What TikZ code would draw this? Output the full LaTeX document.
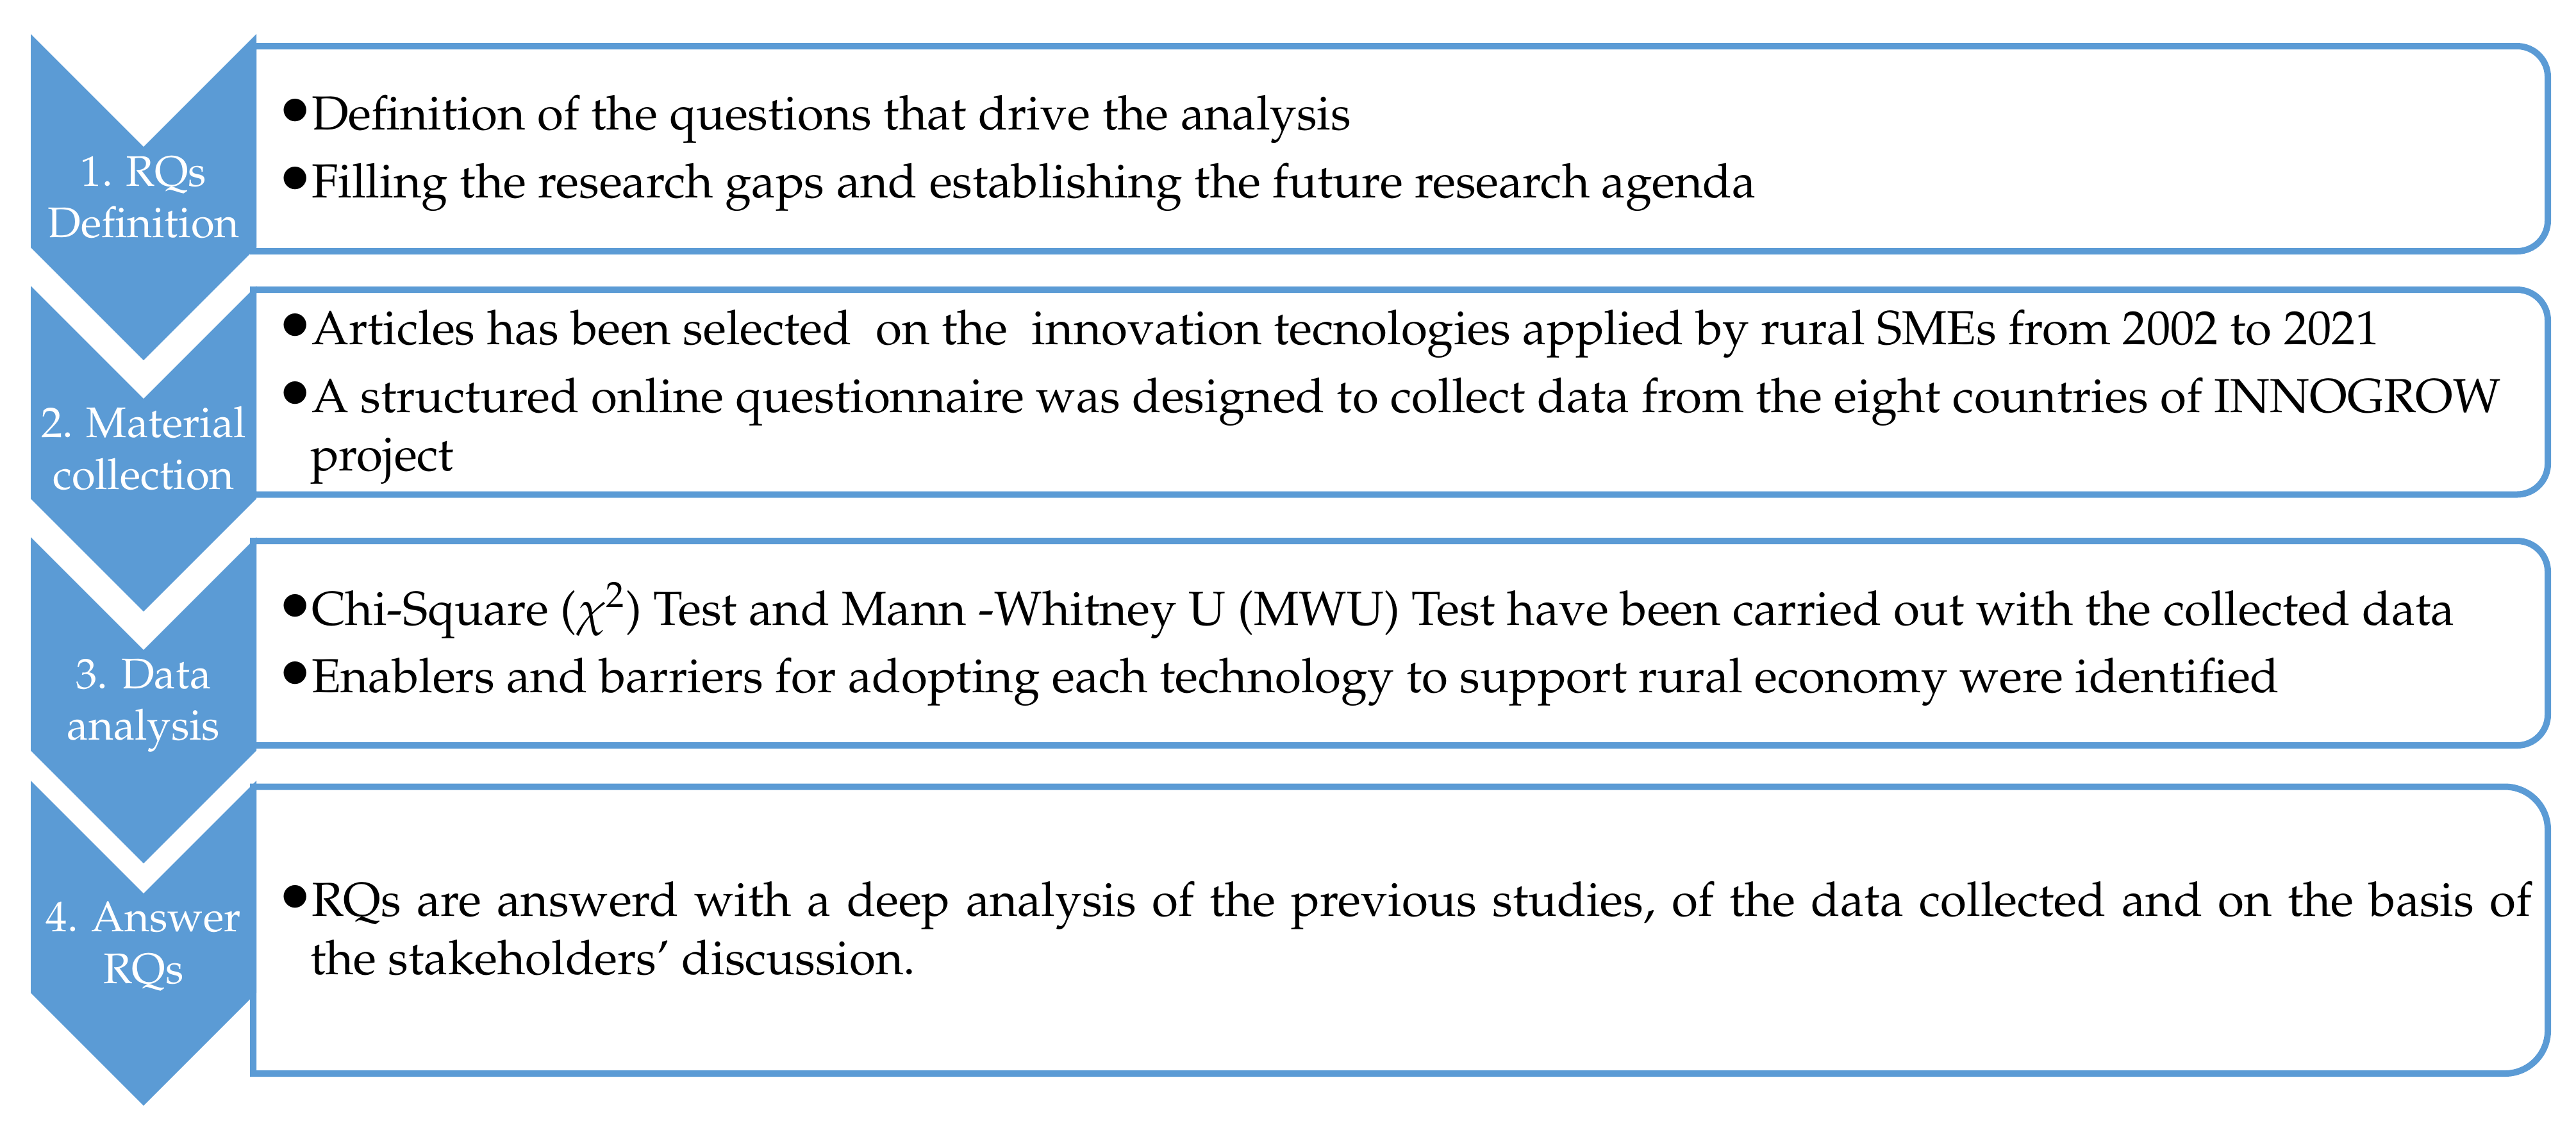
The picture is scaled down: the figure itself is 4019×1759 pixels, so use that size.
\documentclass[tikz,border=0pt]{standalone}
\usepackage[T1]{fontenc}
\usepackage{mathpazo}
\usepackage{graphicx}
\definecolor{accent}{HTML}{5B9BD5}
\newcommand\stagebox[4]{%
  \draw[stepbox] (395,#2) -- ({3975-#4},#2) arc[start angle=-90,end angle=0,radius=#4]
    -- (3975,{#3-#4}) arc[start angle=0,end angle=90,radius=#4] -- (395,#3) -- cycle;
  \coordinate (#1) at (2185,{(#2+#3)/2});}
\newcommand\chevshape[2]{%
  \fill[chev] (48,#1) -- (224,{#1+176}) -- (400,#1) -- (400,{#1+#2})
    -- (224,{#1+#2+176}) -- (48,{#1+#2}) -- cycle;}
\newcommand\blt{\makebox[0.37cm][l]{\makebox[0.23cm][c]{\raisebox{-1.5pt}{\scalebox{1.38}{\textbullet}}}}}
\begin{document}
\begin{tikzpicture}[x=0.01cm,y=-0.01cm,
  stepbox/.style={draw=accent,line width=0.1cm,fill=white},
  chev/.style={fill=accent,draw=none},
  bodytext/.style={anchor=base west,inner sep=0pt,outer sep=0pt,font=\fontsize{21.2}{26}\selectfont},
  labeltext/.style={anchor=base,inner sep=0pt,outer sep=0pt,text=white,font=\fontsize{19}{23}\selectfont}]
\useasboundingbox (0,0) rectangle (4019,1759);
% boxes
\stagebox{box1}{72}{392}{48}
\stagebox{box2}{452}{771.5}{48}
\stagebox{box3}{844}{1163}{48}
\stagebox{box4}{1227.5}{1675}{67}
% chevrons
\chevshape{53}{333}
\chevshape{446}{332}
\chevshape{838}{333}
\chevshape{1218}{331}
% labels
\node[labeltext] (l1a) at (224,290) {1. RQs};
\node[labeltext] (l1b) at (224,370) {Definition};
\node[labeltext] (l2a) at (224,682) {2. Material};
\node[labeltext] (l2b) at (224,763) {collection};
\node[labeltext] (l3a) at (224,1074) {3. Data};
\node[labeltext] (l3b) at (224,1154) {analysis};
\node[labeltext] (l4a) at (224,1453) {4. Answer};
\node[labeltext] (l4b) at (224,1534) {RQs};
% body text
\node[bodytext] (t1a) at (449,202) {\blt Definition of the questions that drive the analysis};
\node[bodytext] (t1b) at (449,308) {\blt Filling the research gaps and establishing the future research agenda};
\node[bodytext] (t2a) at (449,537) {\blt Articles has been selected\ \ on the\ \ innovation tecnologies applied by rural SMEs from 2002 to 2021};
\node[bodytext] (t2b) at (449,643) {\blt A structured online questionnaire was designed to collect data from the eight countries of INNOGROW};
\node[bodytext] (t2c) at (484,734) {project};
\node[bodytext] (t3a) at (449,975) {\blt Chi-Square ($\chi^2$) Test and Mann -Whitney U (MWU) Test have been carried out with the collected data};
\node[bodytext] (t3b) at (449,1080) {\blt Enablers and barriers for adopting each technology to support rural economy were identified};
\node[bodytext] (t4a) at (449,1429) {\blt\makebox[34.62cm][s]{RQs are answerd with a deep analysis of the previous studies, of the data collected and on the basis of}};
\node[bodytext] (t4b) at (484,1520) {the stakeholders' discussion.};
\end{tikzpicture}
\end{document}
